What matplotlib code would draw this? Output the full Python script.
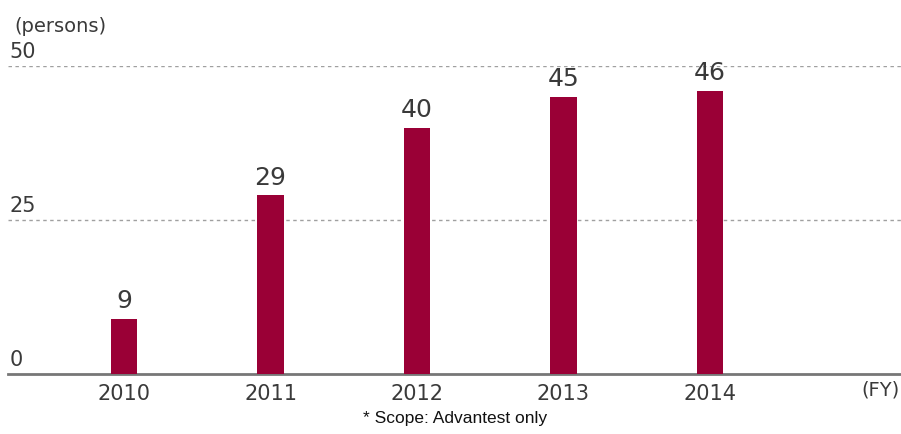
import matplotlib
matplotlib.use("Agg")
import matplotlib.pyplot as plt
from matplotlib.transforms import blended_transform_factory

years = ["2010", "2011", "2012", "2013", "2014"]
persons = [9, 29, 40, 45, 46]
y_ticks = [0, 25, 50]

bar_color = "#9a0036"
text_color = "#3a3a3a"

plt.rcParams["font.family"] = ["DejaVu Sans"]

fig = plt.figure(figsize=(9.01, 4.34), dpi=100)
ax = fig.add_axes([8 / 901, 1 - 374 / 434, 893 / 901, (374 - 66) / 434])

x = list(range(len(years)))
ax.bar(x, persons, width=0.178, color=bar_color, zorder=3)

for xi, v in zip(x, persons):
    ax.annotate(str(v), (xi, v), xytext=(0, 4), textcoords="offset points",
                ha="center", va="bottom", fontsize=18, color=text_color,
                annotation_clip=False)

ax.set_xlim(-0.792, 5.304)
ax.set_ylim(0, 50)

# dashed reference lines and labels sitting just above them
trans = blended_transform_factory(ax.transAxes, ax.transData)
for t in y_ticks:
    if t > 0:
        ax.axhline(t, color="#a0a0a0", lw=1.0, ls=(0, (2.5, 2.5)), zorder=1)
    ax.annotate(str(t), (0, t), xycoords=trans, xytext=(1, 3),
                textcoords="offset points", ha="left", va="bottom",
                fontsize=15, color=text_color, annotation_clip=False)

ax.set_yticks([])
ax.set_xticks(x)
ax.set_xticklabels(years, fontsize=15, color=text_color)
ax.tick_params(axis="x", length=0, pad=7)

for side in ["top", "left", "right"]:
    ax.spines[side].set_visible(False)
ax.spines["bottom"].set_color("#777777")
ax.spines["bottom"].set_linewidth(2)

fig.text(14 / 901, 1 - 26 / 434, "(persons)", fontsize=14, color=text_color,
         ha="left", va="center")
fig.text(900 / 901, 1 - 390 / 434, "(FY)", fontsize=14, color=text_color,
         ha="right", va="center")
fig.text(455 / 901, 1 - 418 / 434, "* Scope: Advantest only", fontsize=12.5,
         color="#111111", ha="center", va="center", family="Liberation Sans")

fig.savefig("out.png", dpi=100)
